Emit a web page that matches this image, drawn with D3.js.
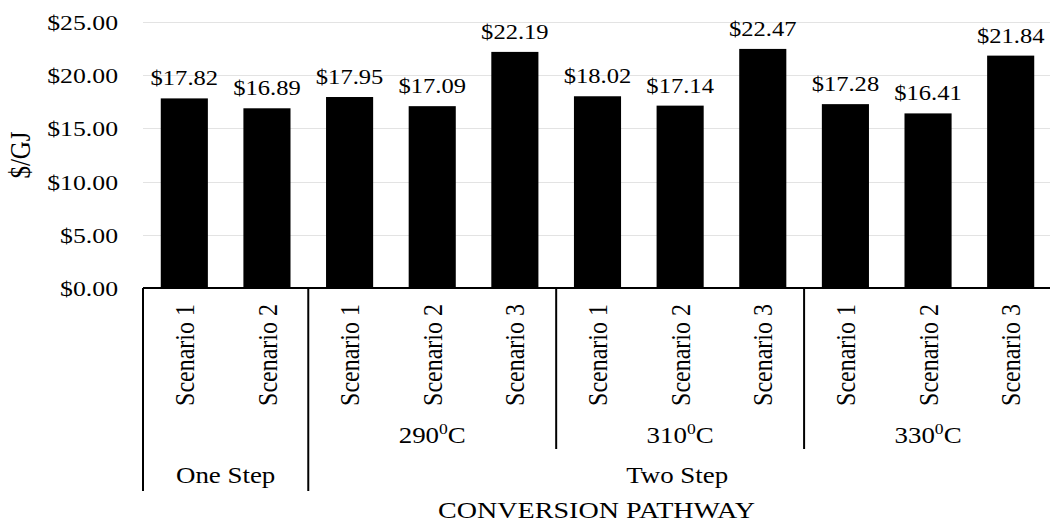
<!DOCTYPE html>
<html>
<head>
<meta charset="utf-8">
<script src="https://cdn.jsdelivr.net/npm/d3@7"></script>
<style>
  html, body { margin: 0; padding: 0; background: #fff; }
  svg { display: block; }
</style>
</head>
<body>
<svg id="chart" width="1050" height="523"></svg>
<script>
// ---- Data ----
const scenarios = ["Scenario 1", "Scenario 2", "Scenario 1", "Scenario 2", "Scenario 3",
                   "Scenario 1", "Scenario 2", "Scenario 3", "Scenario 1", "Scenario 2", "Scenario 3"];
const temperatures = ["", "", "290", "290", "290", "310", "310", "310", "330", "330", "330"];
const pathways = ["One Step", "One Step", "Two Step", "Two Step", "Two Step",
                  "Two Step", "Two Step", "Two Step", "Two Step", "Two Step", "Two Step"];
const values = [17.82, 16.89, 17.95, 17.09, 22.19, 18.02, 17.14, 22.47, 17.28, 16.41, 21.84];
const yTicks = [0, 5, 10, 15, 20, 25];
const yTitle = "$/GJ";
const xTitle = "CONVERSION PATHWAY";

// ---- Layout ----
const FONT = "'Liberation Serif', 'Times New Roman', Times, 'DejaVu Serif', serif";
const S = 1.17; // horizontal text stretch of the reference
const plotLeft = 143, plotRight = 1052, baseY = 288, topY = 22;
const svg = d3.select("#chart");

const ids = values.map((v, i) => i);
const x = d3.scaleBand().domain(ids).range([plotLeft, plotRight])
  .paddingInner(0.43).paddingOuter(0.215);
const y = d3.scaleLinear().domain([0, 25]).range([baseY, topY]);
const step = x.step();
const boundary = i => i < ids.length ? x(i) - step * x.paddingInner() / 2 : plotRight;

function txt(sel, size) {
  return sel.attr("font-family", FONT).style("font-family", FONT)
    .style("font-size", size + "px").attr("fill", "#000");
}

// gridlines
svg.append("g").selectAll("line").data(yTicks.filter(d => d > 0)).join("line")
  .attr("x1", plotLeft).attr("x2", 1050)
  .attr("y1", d => Math.round(y(d)) + 0.5).attr("y2", d => Math.round(y(d)) + 0.5)
  .attr("stroke", "#e3e3e3").attr("stroke-width", 1);

// y axis
const yAxis = svg.append("g").attr("transform", `translate(${plotLeft},0)`)
  .call(d3.axisLeft(y).tickValues(yTicks).tickSize(0).tickFormat(d => "$" + d.toFixed(2)));
yAxis.attr("font-family", FONT);
yAxis.select(".domain").remove();
txt(yAxis.selectAll("text")
  .attr("x", -25 / S).attr("dy", "0.34em")
  .attr("transform", `scale(${S},1)`), 22);

// y title
txt(svg.append("text")
  .attr("transform", `translate(30,155) scale(${S},1) rotate(-90)`)
  .attr("text-anchor", "middle"), 25)
  .text(yTitle);

// bars
svg.append("g").selectAll("rect").data(ids).join("rect")
  .attr("x", i => x(i)).attr("width", x.bandwidth())
  .attr("y", i => y(values[i])).attr("height", i => y(0) - y(values[i]))
  .attr("fill", "#000");

// data labels
txt(svg.append("g").selectAll("text").data(ids).join("text")
  .attr("transform", i => `translate(${x(i) + x.bandwidth() / 2},${y(values[i]) - 13}) scale(${S},1)`)
  .attr("text-anchor", "middle"), 21)
  .text(i => "$" + values[i].toFixed(2));

// baseline
svg.append("line")
  .attr("x1", plotLeft).attr("x2", plotRight)
  .attr("y1", baseY).attr("y2", baseY)
  .attr("stroke", "#000").attr("stroke-width", 2);

// category labels (rotated)
txt(svg.append("g").selectAll("text").data(ids).join("text")
  .attr("transform", i => `translate(${x(i) + x.bandwidth() / 2},304) scale(${S},1) rotate(-90)`)
  .attr("text-anchor", "end")
  .attr("dy", "0.34em"), 24)
  .text(i => scenarios[i]);

// temperature groups
const tempGroups = [];
temperatures.forEach((t, i) => {
  if (!t) return;
  const g = tempGroups.find(d => d.t === t);
  if (g) g.end = i; else tempGroups.push({ t, start: i, end: i });
});
// pathway groups
const pathGroups = [];
pathways.forEach((p, i) => {
  const g = pathGroups.find(d => d.p === p);
  if (g) g.end = i; else pathGroups.push({ p, start: i, end: i });
});

// separator lines: pathway boundaries (long), temperature boundaries (short)
const longX = new Set();
pathGroups.forEach(g => { longX.add(g.start); longX.add(g.end + 1); });
const shortX = new Set();
tempGroups.forEach(g => { shortX.add(g.start); shortX.add(g.end + 1); });
svg.append("g").selectAll("line").data([...longX]).join("line")
  .attr("x1", i => boundary(i)).attr("x2", i => boundary(i))
  .attr("y1", baseY).attr("y2", 491)
  .attr("stroke", "#000").attr("stroke-width", 2);
svg.append("g").selectAll("line").data([...shortX].filter(i => !longX.has(i))).join("line")
  .attr("x1", i => boundary(i)).attr("x2", i => boundary(i))
  .attr("y1", baseY).attr("y2", 449)
  .attr("stroke", "#000").attr("stroke-width", 2);

// temperature labels
const tl = txt(svg.append("g").selectAll("text").data(tempGroups).join("text")
  .attr("transform", g => `translate(${(boundary(g.start) + boundary(g.end + 1)) / 2},443) scale(${S},1)`)
  .attr("text-anchor", "middle"), 23);
tl.append("tspan").text(g => g.t);
tl.append("tspan").attr("dy", -9).style("font-size", "15px").text("0");
tl.append("tspan").attr("dy", 9).text("C");

// pathway labels
txt(svg.append("g").selectAll("text").data(pathGroups).join("text")
  .attr("transform", g => `translate(${(boundary(g.start) + boundary(g.end + 1)) / 2 - (g.p === "Two Step" ? 3 : 0)},483) scale(${S},1)`)
  .attr("text-anchor", "middle"), 23)
  .text(g => g.p);

// x title
txt(svg.append("text")
  .attr("transform", `translate(${(plotLeft + plotRight) / 2 - 1},518) scale(${S},1)`)
  .attr("text-anchor", "middle"), 24)
  .text(xTitle);
</script>
</body>
</html>
